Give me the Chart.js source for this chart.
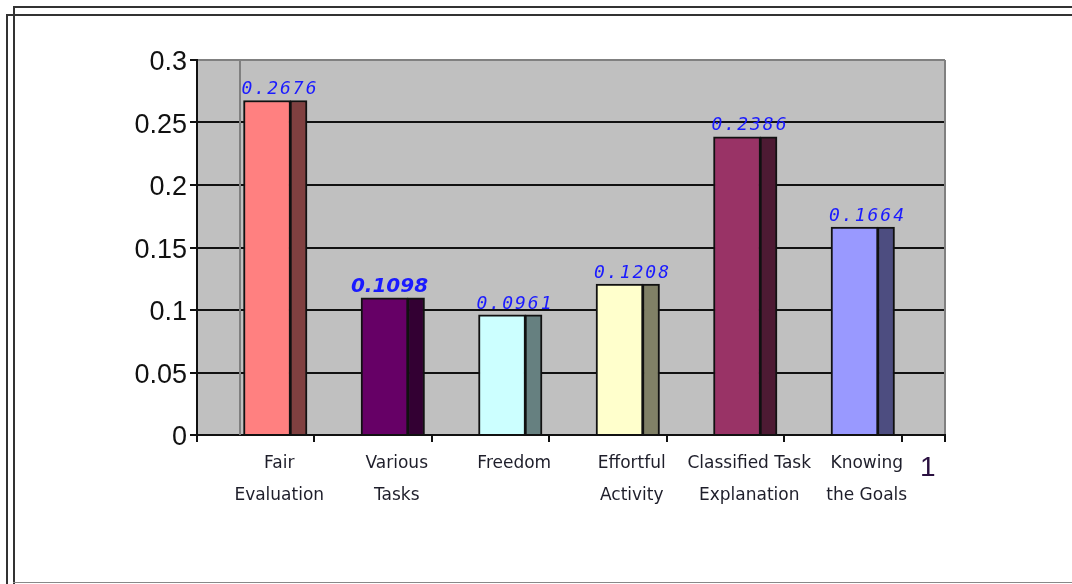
<!DOCTYPE html>
<html>
<head>
<meta charset="utf-8">
<script src="https://cdn.jsdelivr.net/npm/chart.js@4/dist/chart.umd.min.js"></script>
<style>
  html, body { margin: 0; padding: 0; background: #fff; width: 1072px; height: 584px; overflow: hidden; }
  #wrap { position: relative; width: 1072px; height: 584px; }
  canvas { position: absolute; left: 0; top: 0; }
  .ln { position: absolute; background: #333; pointer-events: none; }
</style>
</head>
<body>
<div id="wrap">
  <canvas id="c" width="1072" height="584"></canvas>
  <div class="ln" style="left:13px;top:6px;width:1059px;height:2px;"></div>
  <div class="ln" style="left:13px;top:6px;width:2px;height:578px;"></div>
  <div class="ln" style="left:6px;top:14px;width:1066px;height:2px;"></div>
  <div class="ln" style="left:6px;top:14px;width:2px;height:570px;"></div>
  <div class="ln" style="left:13px;top:582px;width:1059px;height:1px;background:#888;"></div>
</div>
<script>
// ---- data ----
const categories = [
  ['Fair', 'Evaluation'],
  ['Various', 'Tasks'],
  ['Freedom'],
  ['Effortful', 'Activity'],
  ['Classified Task', 'Explanation'],
  ['Knowing', 'the Goals']
];
const values = [0.2676, 0.1098, 0.0961, 0.1208, 0.2386, 0.1664];
const valueLabels = ['0.2676', '0.1098', '0.0961', '0.1208', '0.2386', '0.1664'];
const extraLabel = '1';
const yTickValues = [0, 0.05, 0.1, 0.15, 0.2, 0.25, 0.3];
const yTickLabels = ['0', '0.05', '0.1', '0.15', '0.2', '0.25', '0.3'];

// ---- styling ----
const frontColors = ['#ff8080', '#660066', '#ccffff', '#ffffcc', '#993366', '#9999ff'];
const sideColors  = ['#804040', '#330033', '#668080', '#808066', '#4d1a33', '#4d4d80'];

const X_MIN = -0.5, X_SPAN = 6.366, X_MAX = X_MIN + X_SPAN;
const FRONT_SHIFT = 0.596, SIDE_SHIFT = 0.864, LABEL_SHIFT = 0.2, EXTRA_POS = 5.72, WALL_X = -0.134;
const boundaryTicks = [];
for (let i = 0; i <= categories.length; i++) boundaryTicks.push(X_MIN + i);
boundaryTicks.push(X_MAX);
const labelTicks = categories.map((c, i) => i + LABEL_SHIFT).concat([EXTRA_POS]);
const labelTexts = categories.concat([extraLabel]);

const bgPlugin = {
  id: 'bg',
  beforeDraw(chart) {
    const { ctx, chartArea: a } = chart;
    ctx.save();
    ctx.fillStyle = '#c0c0c0';
    ctx.fillRect(a.left, a.top, a.right - a.left, a.bottom - a.top);
    ctx.restore();
  },
  beforeDatasetsDraw(chart) {
    const { ctx, chartArea: a } = chart;
    const x = chart.scales.x.getPixelForValue(WALL_X);
    ctx.save();
    ctx.strokeStyle = '#808080';
    ctx.lineWidth = 2;
    ctx.beginPath();
    ctx.moveTo(x, a.top);
    ctx.lineTo(x, a.bottom);
    ctx.stroke();
    ctx.restore();
  },
  afterDatasetsDraw(chart) {
    const { ctx } = chart;
    const meta = chart.getDatasetMeta(1);
    ctx.save();
    ctx.fillStyle = '#1a1aff';
    ctx.textAlign = 'center';
    ctx.textBaseline = 'middle';
    meta.data.forEach((el, i) => {
      if (i === 1) {
        ctx.font = 'italic bold 20px "DejaVu Sans"';
        ctx.letterSpacing = '0px';
        ctx.fillText(valueLabels[i], el.x + 5, el.y - 11);
      } else {
        ctx.font = 'italic 18px "DejaVu Sans Mono"';
        ctx.letterSpacing = '2px';
        ctx.fillText(valueLabels[i], el.x + 13, el.y - 11);
      }
    });
    ctx.restore();
  }
};

new Chart(document.getElementById('c'), {
  type: 'bar',
  data: {
    datasets: [
      {
        label: 'side',
        data: values.map((v, i) => ({ x: i, y: v })),
        xAxisID: 'xs',
        backgroundColor: sideColors,
        borderColor: '#111',
        borderWidth: 2,
        barThickness: 17,
        grouped: false,
        order: 2
      },
      {
        label: 'front',
        data: values.map((v, i) => ({ x: i, y: v })),
        xAxisID: 'xb',
        backgroundColor: frontColors,
        borderColor: '#111',
        borderWidth: 2,
        barThickness: 47,
        grouped: false,
        order: 1
      }
    ]
  },
  options: {
    responsive: false,
    animation: false,
    devicePixelRatio: 1,
    layout: { padding: { left: 0, top: 60, right: 127, bottom: 0 } },
    plugins: { legend: { display: false }, tooltip: { enabled: false } },
    scales: {
      y: {
        min: 0, max: 0.3,
        afterBuildTicks: s => { s.ticks = yTickValues.map(v => ({ value: v })); },
        afterFit: s => { s.width = 197; },
        ticks: {
          callback: (v, i) => yTickLabels[i],
          font: { family: '"Liberation Sans", Arial, sans-serif', size: 27 },
          color: '#111',
          padding: 3,
          labelOffset: 3
        },
        grid: {
          color: c => (c.tick && Math.abs(c.tick.value - 0.3) < 1e-9) ? '#808080' : '#111',
          lineWidth: 2,
          tickColor: '#111',
          tickLength: 7
        },
        border: { display: true, color: '#111', width: 2 }
      },
      x: {
        type: 'linear', position: 'bottom', weight: 0, offset: false,
        min: X_MIN, max: X_MAX,
        afterBuildTicks: s => { s.ticks = boundaryTicks.map(v => ({ value: v })); },
        afterFit: s => { s.height = 8; },
        ticks: { display: false },
        grid: {
          offset: false,
          drawOnChartArea: true,
          color: c => (c.tick && Math.abs(c.tick.value - X_MAX) < 1e-9) ? '#808080' : 'rgba(0,0,0,0)',
          lineWidth: 2,
          tickColor: '#111',
          tickLength: 7
        },
        border: { display: true, color: '#111', width: 2 }
      },
      xl: {
        type: 'linear', axis: 'x', position: 'bottom', weight: 1, offset: false,
        min: X_MIN, max: X_MAX,
        afterBuildTicks: s => { s.ticks = labelTicks.map(v => ({ value: v })); },
        afterFit: s => { s.height = 141; },
        ticks: {
          autoSkip: false, maxRotation: 0, minRotation: 0,
          callback: (v, i) => labelTexts[i],
          font: c => c.index === labelTexts.length - 1
            ? { family: '"Liberation Sans", Arial, sans-serif', size: 28, lineHeight: 1.5 }
            : { family: '"DejaVu Sans", Verdana, sans-serif', size: 17, lineHeight: 1.9 },
          color: c => c.index === labelTexts.length - 1 ? '#2a1040' : '#1e1e2a',
          padding: 4
        },
        grid: { display: false, drawTicks: false, offset: false },
        border: { display: false }
      },
      xb: {
        type: 'linear', axis: 'x', display: false, offset: false, grid: { offset: false },
        min: -FRONT_SHIFT, max: -FRONT_SHIFT + X_SPAN
      },
      xs: {
        type: 'linear', axis: 'x', display: false, offset: false, grid: { offset: false },
        min: -SIDE_SHIFT, max: -SIDE_SHIFT + X_SPAN
      }
    }
  },
  plugins: [bgPlugin]
});
</script>
</body>
</html>
